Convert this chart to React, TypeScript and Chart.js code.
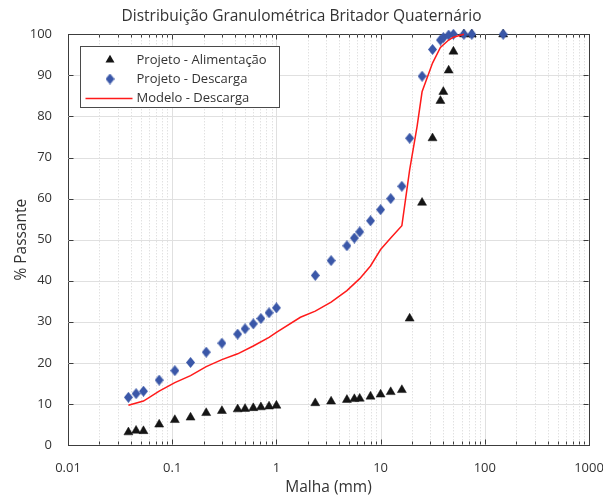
import React, { useEffect, useRef } from 'react';
import { Chart, registerables } from 'chart.js';

Chart.register(...registerables);

// ---- data ----
const feedSieves = [0.038, 0.045, 0.053, 0.075, 0.106, 0.15, 0.212, 0.3, 0.425, 0.5, 0.6, 0.71, 0.85, 1.0, 2.36, 3.35, 4.75, 5.6, 6.3, 8, 10, 12.5, 16, 19, 25, 31.5, 37.5, 40, 45, 50, 63, 75, 150];
const feedPassing = [3.1, 3.5, 3.4, 5.0, 6.1, 6.7, 7.8, 8.3, 8.7, 8.8, 9.0, 9.2, 9.4, 9.6, 10.2, 10.6, 11.0, 11.2, 11.3, 11.8, 12.3, 12.9, 13.4, 30.8, 59.0, 74.7, 83.8, 86.0, 91.2, 95.8, 100, 100, 100];

const dischargeSieves = [0.038, 0.045, 0.053, 0.075, 0.106, 0.15, 0.212, 0.3, 0.425, 0.5, 0.6, 0.71, 0.85, 1.0, 2.36, 3.35, 4.75, 5.6, 6.3, 8, 10, 12.5, 16, 19, 25, 31.5, 37.5, 40, 45, 50, 63, 75, 150];
const dischargePassing = [11.6, 12.5, 13.1, 15.8, 18.1, 20.1, 22.6, 24.8, 27.0, 28.3, 29.5, 30.8, 32.2, 33.4, 41.3, 44.9, 48.5, 50.4, 51.9, 54.6, 57.3, 60.0, 63.0, 74.7, 89.8, 96.3, 98.6, 99.2, 99.8, 100, 100, 100, 100];

const modelSieves = [0.038, 0.053, 0.075, 0.106, 0.15, 0.212, 0.3, 0.425, 0.6, 0.85, 1.0, 1.7, 2.36, 3.35, 4.75, 6.3, 8, 10, 12.5, 16, 19, 22.4, 25, 31.5, 37.5, 45, 50, 63];
const modelPassing = [9.7, 10.7, 13.1, 15.2, 16.9, 19.1, 20.8, 22.2, 24.1, 26.2, 27.4, 31.1, 32.6, 34.8, 37.6, 40.5, 43.6, 47.6, 50.4, 53.4, 67.0, 77.6, 86.0, 93.0, 96.8, 98.6, 99.3, 100];

const xTickValues = [0.01, 0.1, 1, 10, 100, 1000];
const xTickLabels = ['0.01', '0.1', '1', '10', '100', '1000'];
const yTickValues = [0, 10, 20, 30, 40, 50, 60, 70, 80, 90, 100];

const seriesLabels = ['Projeto - Alimentação', 'Projeto - Descarga', 'Modelo - Descarga'];
const titleText = 'Distribuição Granulométrica Britador Quaternário';
const xTitle = 'Malha (mm)';
const yTitle = '% Passante';

const FONT = "'Open Sans', 'Noto Sans', sans-serif";
const TEXT = '#333333';
const AXIS = '#3c3c3c';
const BLUE = '#3a57a8';
const BLACK = '#151515';
const RED = '#ff1a1a';

function makeDiamond(): HTMLCanvasElement {
  const c = document.createElement('canvas');
  c.width = 9;
  c.height = 11;
  const g = c.getContext('2d')!;
  g.fillStyle = BLUE;
  g.beginPath();
  g.moveTo(4.5, 0);
  g.lineTo(9, 5.5);
  g.lineTo(4.5, 11);
  g.lineTo(0, 5.5);
  g.closePath();
  g.fill();
  return c;
}

const gridPlugin = {
  id: 'bgGrid',
  beforeDatasetsDraw(chart: any) {
    const { ctx, chartArea } = chart;
    const { left, right, top, bottom } = chartArea;
    const xs = chart.scales.x;
    const ys = chart.scales.y;
    ctx.save();
    ctx.lineWidth = 1;
    ctx.strokeStyle = '#d4d4d4';
    ctx.setLineDash([1, 2]);
    for (let d = 0; d < xTickValues.length - 1; d++) {
      for (let m = 2; m <= 9; m++) {
        const px = Math.round(xs.getPixelForValue(xTickValues[d] * m)) + 0.5;
        ctx.beginPath();
        ctx.moveTo(px, top);
        ctx.lineTo(px, bottom);
        ctx.stroke();
      }
    }
    ctx.setLineDash([]);
    ctx.strokeStyle = '#e0e0e0';
    for (let i = 1; i < xTickValues.length - 1; i++) {
      const px = Math.round(xs.getPixelForValue(xTickValues[i])) + 0.5;
      ctx.beginPath();
      ctx.moveTo(px, top);
      ctx.lineTo(px, bottom);
      ctx.stroke();
    }
    for (let i = 1; i < yTickValues.length - 1; i++) {
      const py = Math.round(ys.getPixelForValue(yTickValues[i])) + 0.5;
      ctx.beginPath();
      ctx.moveTo(left, py);
      ctx.lineTo(right, py);
      ctx.stroke();
    }
    // inward tick marks
    const L = Math.round(left) + 0.5;
    const R = Math.round(right) - 0.5;
    const T = Math.round(top) + 0.5;
    const B = Math.round(bottom) - 0.5;
    ctx.strokeStyle = AXIS;
    ctx.beginPath();
    for (let d = 0; d < xTickValues.length; d++) {
      const px = Math.round(xs.getPixelForValue(xTickValues[d])) + 0.5;
      ctx.moveTo(px, B);
      ctx.lineTo(px, B - 5);
      ctx.moveTo(px, T);
      ctx.lineTo(px, T + 5);
      if (d < xTickValues.length - 1) {
        for (let m = 2; m <= 9; m++) {
          const qx = Math.round(xs.getPixelForValue(xTickValues[d] * m)) + 0.5;
          ctx.moveTo(qx, B);
          ctx.lineTo(qx, B - 3);
          ctx.moveTo(qx, T);
          ctx.lineTo(qx, T + 3);
        }
      }
    }
    for (let i = 0; i < yTickValues.length; i++) {
      const py = Math.round(ys.getPixelForValue(yTickValues[i])) + 0.5;
      ctx.moveTo(L, py);
      ctx.lineTo(L + 5, py);
      ctx.moveTo(R, py);
      ctx.lineTo(R - 5, py);
    }
    ctx.stroke();
    ctx.restore();
  },
};

const legendPlugin = {
  id: 'boxLegend',
  afterDraw(chart: any) {
    const { ctx, chartArea } = chart;
    const bx = Math.round(chartArea.left + 12) + 0.5;
    const by = Math.round(chartArea.top + 12) + 0.5;
    const bw = 199;
    const bh = 61;
    ctx.save();
    ctx.fillStyle = '#ffffff';
    ctx.fillRect(bx, by, bw, bh);
    ctx.strokeStyle = '#4a4a4a';
    ctx.lineWidth = 1;
    ctx.strokeRect(bx, by, bw, bh);
    const mx = bx + 29.5;
    const tx = bx + 56;
    const rows = [by + 13.5, by + 32.5, by + 52];
    ctx.font = `13px ${FONT}`;
    ctx.textBaseline = 'middle';
    ctx.textAlign = 'left';
    chart.data.datasets.forEach((ds: any, i: number) => {
      const ry = rows[i];
      if (i === 0) {
        const r = 5.2;
        ctx.fillStyle = BLACK;
        ctx.beginPath();
        ctx.moveTo(mx, ry - r);
        ctx.lineTo(mx + r * 0.866, ry + r / 2);
        ctx.lineTo(mx - r * 0.866, ry + r / 2);
        ctx.closePath();
        ctx.fill();
      } else if (i === 1) {
        const img = ds.pointStyle as HTMLCanvasElement;
        ctx.drawImage(img, mx - img.width / 2, ry - img.height / 2);
      } else {
        ctx.strokeStyle = RED;
        ctx.lineWidth = 1.5;
        ctx.beginPath();
        ctx.moveTo(bx + 5, ry);
        ctx.lineTo(bx + 52, ry);
        ctx.stroke();
      }
      ctx.fillStyle = TEXT;
      ctx.fillText(ds.label, tx, ry);
    });
    ctx.restore();
  },
};

export default function App() {
  const ref = useRef<HTMLCanvasElement | null>(null);
  useEffect(() => {
    if (!ref.current) return;
    const diamond = makeDiamond();
    const chart = new Chart(ref.current, {
      type: 'scatter',
      data: {
        datasets: [
          {
            label: seriesLabels[0],
            data: feedSieves.map((s, i) => ({ x: s, y: feedPassing[i] })),
            pointStyle: 'triangle',
            pointRadius: 5.2,
            backgroundColor: BLACK,
            borderColor: BLACK,
            borderWidth: 0.5,
            showLine: false,
            clip: false,
            order: 3,
          } as any,
          {
            label: seriesLabels[1],
            data: dischargeSieves.map((s, i) => ({ x: s, y: dischargePassing[i] })),
            pointStyle: diamond,
            pointRadius: 5,
            showLine: false,
            clip: false,
            order: 2,
          } as any,
          {
            label: seriesLabels[2],
            data: modelSieves.map((s, i) => ({ x: s, y: modelPassing[i] })),
            showLine: true,
            pointRadius: 0,
            borderColor: RED,
            borderWidth: 1.5,
            tension: 0,
            clip: false,
            order: 1,
          } as any,
        ],
      },
      options: {
        animation: false,
        responsive: false,
        layout: { padding: { left: 0, right: 0, top: 0, bottom: 0 } },
        plugins: {
          legend: { display: false },
          tooltip: { enabled: false },
          title: {
            display: true,
            text: titleText,
            color: TEXT,
            font: { family: FONT, size: 15.5, weight: 'normal' },
            padding: { top: 7.7, bottom: 8 },
          },
        },
        scales: {
          x: {
            type: 'logarithmic',
            min: 0.01,
            max: 1000,
            grid: { display: false },
            border: { display: true, color: AXIS, width: 1 },
            afterBuildTicks: (scale: any) => {
              scale.ticks = xTickValues.map((v) => ({ value: v }));
            },
            afterFit: (scale: any) => {
              scale.height = 52;
              scale.paddingLeft = 0;
              scale.paddingRight = 0;
            },
            ticks: {
              autoSkip: false,
              maxRotation: 0,
              padding: 7,
              color: TEXT,
              font: { family: FONT, size: 13 },
              callback: (value: any) => {
                const i = xTickValues.findIndex((v) => Math.abs(v - Number(value)) < 1e-9 * Math.max(1, v));
                return i >= 0 ? xTickLabels[i] : '';
              },
            },
            title: {
              display: true,
              text: xTitle,
              color: TEXT,
              font: { family: FONT, size: 15.5 },
              padding: { top: 0, bottom: 0.5 },
            },
          },
          xTop: {
            type: 'logarithmic',
            position: 'top',
            min: 0.01,
            max: 1000,
            grid: { display: false },
            border: { display: true, color: AXIS, width: 1 },
            ticks: { display: false },
            afterFit: (scale: any) => {
              scale.height = 0;
              scale.paddingLeft = 0;
              scale.paddingRight = 0;
            },
          },
          y: {
            min: 0,
            max: 100,
            grid: { display: false },
            border: { display: true, color: AXIS, width: 1 },
            afterBuildTicks: (scale: any) => {
              scale.ticks = yTickValues.map((v) => ({ value: v }));
            },
            afterFit: (scale: any) => {
              scale.width = 68;
              scale.paddingTop = 0;
              scale.paddingBottom = 0;
            },
            ticks: {
              padding: 8,
              color: TEXT,
              font: { family: FONT, size: 13 },
            },
            title: {
              display: true,
              text: yTitle,
              color: TEXT,
              font: { family: FONT, size: 15.5 },
              padding: { top: 12.4, bottom: 0 },
            },
          },
          yRight: {
            position: 'right',
            min: 0,
            max: 100,
            grid: { display: false },
            border: { display: true, color: AXIS, width: 1 },
            ticks: { display: false },
            afterFit: (scale: any) => {
              scale.width = 14;
              scale.paddingTop = 0;
              scale.paddingBottom = 0;
            },
          },
        },
      },
      plugins: [gridPlugin, legendPlugin],
    } as any);
    return () => chart.destroy();
  }, []);
  return (
    <div style={{ position: 'absolute', left: 0, top: 0, width: 603, height: 497, background: '#fff' }}>
      <canvas ref={ref} width={603} height={497} style={{ display: 'block' }} />
    </div>
  );
}
